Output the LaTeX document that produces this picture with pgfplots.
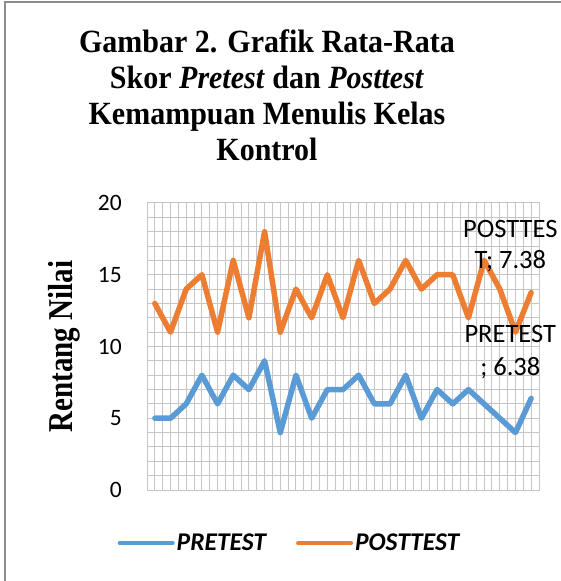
\documentclass[border=0pt]{standalone}
\usepackage{fontspec}
\setmainfont{Carlito}
\newfontfamily\titleserif{Liberation Serif}
\usepackage{pgfplots}
\pgfplotsset{compat=1.18}
\definecolor{preblue}{HTML}{5B9BD5}
\definecolor{postorange}{HTML}{ED7D31}
\definecolor{gridgray}{HTML}{C6C6C6}
\definecolor{framegray}{HTML}{8C8C8C}

\pgfplotstableread{
x pre post
1 5 13
2 5 11
3 6 14
4 8 15
5 6 11
6 8 16
7 7 12
8 9 18
9 4 11
10 8 14
11 5 12
12 7 15
13 7 12
14 8 16
15 6 13
16 6 14
17 8 16
18 5 14
19 7 15
20 6 15
21 7 12
22 6 16
23 5 14
24 4 11
25 6.38 13.76
}\datatable

\begin{document}
\begin{tikzpicture}[x=1pt,y=1pt]
\useasboundingbox (0,0) rectangle (561,581);
\draw[line width=2pt, framegray] (5,-2) -- (5,579) -- (563,579);
\begin{scope}[every node/.style={anchor=base, yscale=1.08, font=\titleserif\bfseries\fontsize{30}{36}\selectfont}]
\node at (267,528) {Gambar 2. Grafik Rata-Rata};
\node at (267,492) {Skor \textit{Pretest} dan \textit{Posttest}};
\node at (267,456) {Kemampuan Menulis Kelas};
\node at (267,420) {Kontrol};
\end{scope}
\begin{axis}[
  at={(147pt,91pt)}, anchor=south west,
  scale only axis, width=392pt, height=287pt,
  xmin=0.5, xmax=25.5, ymin=0, ymax=20,
  xtick={0.5,1,...,25.5}, xticklabels={},
  ytick={0,5,10,15,20}, minor ytick={0,1,...,20},
  grid=both,
  major grid style={gridgray, line width=1pt},
  minor grid style={gridgray, line width=1pt},
  major tick length=0pt, minor tick length=0pt,
  axis line style={gridgray, line width=1pt},
  /pgf/number format/assume math mode=true,
  yticklabel style={font=\fontsize{23.5}{23.5}\selectfont, anchor=east, inner sep=0pt, xshift=-25pt},
  ylabel={Rentang Nilai},
  ylabel style={font=\titleserif\bfseries\fontsize{29}{36}\selectfont, at={(axis description cs:-0.1913,0.5)}, anchor=base, yscale=1.2},
  clip=false,
  legend columns=2,
  legend style={at={(axis description cs:0.3635,-0.185)}, anchor=center, draw=none, fill=none,
    font=\bfseries\itshape\fontsize{25.5}{25.5}\selectfont,
    nodes={inner sep=2pt},
    /tikz/every even column/.append style={column sep=28pt}},
  legend image code/.code={\draw[#1, line width=4pt, line cap=round] (0pt,0pt) -- (53pt,0pt);},
]
\addplot[preblue, line width=5.5pt, line join=round, line cap=round] table[x=x, y=pre] {\datatable};
\addlegendentry{PRETEST}
\addplot[postorange, line width=5.5pt, line join=round, line cap=round] table[x=x, y=post] {\datatable};
\addlegendentry{POSTTEST}
\begin{scope}[every node/.style={anchor=base, font=\fontsize{26.5}{26.5}\selectfont, inner sep=0pt}]
\node at (axis cs:23.67,17.63) {POSTTES};
\node at (axis cs:23.67,15.47) {T; 7.38};
\node at (axis cs:23.67,10.31) {PRETEST};
\node at (axis cs:23.67,8.01) {; 6.38};
\end{scope}
\end{axis}
\end{tikzpicture}
\end{document}
